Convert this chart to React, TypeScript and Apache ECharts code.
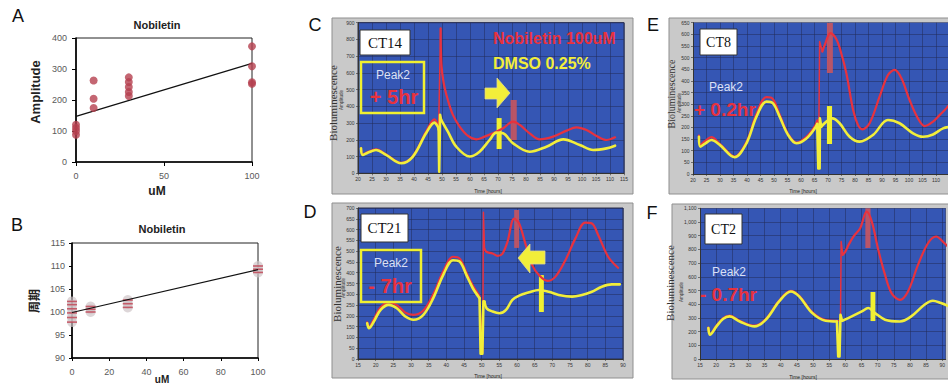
import React, { useEffect, useRef } from "react";
import * as echarts from "echarts";

const W = 948;
const H = 385;
const SANS = "'Liberation Sans', Arial, sans-serif";
const SERIF = "'Liberation Serif', 'Times New Roman', serif";
const BLUE = "#3556B4";
const RED = "#E8323E";
const YEL = "#F2EE3A";
const DOT = "#B5404F";

// ---------- Panel A: amplitude vs concentration ----------
const A_AMP_0 = [88, 100, 110, 120];
const A_AMP_10 = [174, 204, 263];
const A_AMP_30 = [213, 226, 242, 258, 273];
const A_AMP_100 = [252, 257, 309, 373];
const A_TREND = [[0, 147], [100, 318]];

// ---------- Panel B: period vs concentration ----------
const B_PER_0 = [97.8, 98.8, 99.8, 100.7, 101.6, 102.3];
const B_PER_10 = [100.0, 100.6, 101.2];
const B_PER_30 = [101.0, 101.8, 102.6];
const B_PER_100 = [108.6, 109.3, 110.0];
const B_TREND = [[0, 99.9], [100, 109.2]];

// ---------- Panel C (CT14) ----------
const C_RED_PRE = [[21.07, 149], [21.67, 112], [23.46, 127], [26.44, 143], [30, 113], [35.4, 62], [39.6, 103], [44.3, 248], [47.3, 322], [48.5, 290], [48.8, 272]];
const C_RED_SPIKE = [[48.8, 272], [49.5, 866]];
const C_RED_POST = [[49.5, 866], [49.8, 650], [50.6, 540], [52.1, 438], [53.9, 349], [56.3, 279], [59.3, 223], [62.2, 203], [65.2, 219], [68.2, 239], [71.8, 269], [75.4, 309], [77.8, 289], [81.3, 239], [84.9, 203], [89.7, 219], [94.5, 255], [98, 275], [101.6, 259], [105.2, 223], [108.8, 199], [111.8, 215]];
const C_YEL_PRE = [[21.07, 149], [21.67, 110], [23.46, 123], [26.44, 139], [30, 110], [35.4, 60], [39.6, 100], [44.3, 239], [47.3, 303], [48.5, 279], [48.8, 262]];
const C_YEL_SPIKE = [[48.8, 262], [49.0, 10], [49.3, 350], [49.7, 319]];
const C_YEL_POST = [[49.7, 319], [52.1, 249], [55.1, 159], [59.9, 100], [63.4, 129], [67, 199], [69.4, 243], [71.8, 239], [75.4, 179], [81.3, 129], [87.3, 159], [93.3, 203], [99.2, 169], [104, 139], [108.8, 149], [111.8, 165]];
const C_MARKS = [{ t0: 74.5, t1: 76.7, v0: 199, v1: 438, color: "rgba(200,85,95,0.9)" }, { t0: 69.5, t1: 71.3, v0: 145, v1: 330, color: "#F0F030" }];

// ---------- Panel D (CT21) ----------
const D_RED_PRE = [[17.6, 170], [18.1, 150], [19.5, 185], [21.4, 240], [23.7, 262], [26.0, 250], [28.4, 215], [30.7, 205], [33.5, 225], [36.3, 300], [39.1, 405], [41.9, 474], [43.8, 465], [45.7, 400], [47.5, 340], [49.4, 292]];
const D_RED_SPIKE = [[49.4, 292], [50.3, 30], [50.5, 680], [50.8, 510]];
const D_RED_POST = [[50.8, 510], [51.3, 497], [53.1, 489], [54.5, 478], [55.9, 489], [57.3, 543], [59.2, 651], [60.6, 628], [62.5, 528], [64.3, 435], [66.2, 389], [68.6, 362], [70.9, 382], [73.7, 458], [76.5, 558], [79.3, 632], [81.2, 628], [83.0, 574], [85.8, 474], [88.6, 423]];
const D_YEL_PRE = [[17.6, 166], [18.1, 143], [19.5, 174], [21.4, 228], [23.7, 251], [26.0, 235], [28.4, 197], [30.7, 182], [33.5, 205], [36.3, 282], [39.1, 389], [41.9, 458], [43.8, 451], [45.7, 389], [47.5, 328], [49.4, 282]];
const D_YEL_SPIKE = [[49.4, 282], [49.7, 25], [50.2, 25], [50.5, 268], [50.8, 266]];
const D_YEL_POST = [[50.8, 266], [51.4, 235], [53.1, 220], [55.0, 212], [56.9, 228], [58.7, 274], [60.6, 294], [63.4, 309], [66.2, 320], [69.0, 312], [71.8, 297], [75.6, 289], [78.4, 297], [81.2, 312], [84.0, 335], [86.8, 346], [89.1, 346]];
const D_MARKS = [{ t0: 59.2, t1: 60.6, v0: 515, v1: 691, color: "rgba(200,85,95,0.9)" }, { t0: 66.2, t1: 67.6, v0: 218, v1: 389, color: "#F0F030" }];

// ---------- Panel E (CT8) ----------
const E_RED_PRE = [[22.2, 165], [22.7, 125], [24.3, 140], [26.8, 158], [29.9, 130], [35.4, 75], [39.8, 137], [43.5, 258], [47.2, 330], [49.6, 322], [52.1, 255], [55.2, 172], [58.3, 135], [62.0, 160], [65.1, 205], [66.0, 230]];
const E_RED_SPIKE = [[66.0, 230], [66.6, 180], [66.9, 569], [67.9, 526]];
const E_RED_POST = [[67.9, 526], [68.8, 554], [70.9, 605], [73.1, 579], [74.9, 519], [76.8, 433], [79.3, 275], [81.1, 211], [82.7, 192], [85.4, 218], [89.1, 332], [92.2, 425], [94.7, 447], [97.2, 411], [100.2, 318], [103.3, 239], [105.8, 206], [108.9, 225], [111.4, 254], [113.8, 282], [115.7, 311]];
const E_YEL_PRE = [[22.2, 160], [22.7, 117], [24.3, 129], [26.8, 146], [29.9, 125], [35.4, 72], [39.8, 132], [43.5, 246], [47.2, 311], [49.6, 304], [52.1, 246], [55.2, 168], [58.3, 132], [62.0, 153], [65.1, 196], [66.0, 215]];
const E_YEL_SPIKE = [[66.0, 215], [66.4, 24], [66.9, 24], [67.0, 239], [67.5, 203]];
const E_YEL_POST = [[67.5, 203], [69.4, 225], [71.6, 239], [74.3, 218], [78.0, 160], [81.7, 139], [86.7, 168], [92.2, 232], [96.5, 218], [101.5, 175], [105.2, 160], [108.9, 170], [112.6, 196], [115.7, 203]];
const E_MARKS = [{ t0: 69.6, t1: 71.8, v0: 434, v1: 649, color: "rgba(200,85,95,0.9)" }, { t0: 69.6, t1: 71.5, v0: 129, v1: 292, color: "#F0F030" }];

// ---------- Panel F (CT2) ----------
const F_RED_PRE = [[17.6, 230], [18.1, 182], [20.1, 243], [22.2, 299], [24.2, 316], [27.3, 279], [31.9, 243], [35.4, 292], [39.5, 425], [43.1, 498], [45.7, 462], [49.8, 340], [53.9, 284], [57.4, 279]];
const F_RED_SPIKE = [[57.4, 279], [58.5, 279], [58.7, 857], [59.2, 760]];
const F_RED_POST = [[59.2, 760], [60.0, 784], [61.0, 833], [62.5, 894], [64.6, 954], [66.6, 1076], [68.2, 1003], [70.2, 797], [72.3, 614], [74.3, 481], [76.9, 432], [79.4, 493], [82.5, 687], [85.6, 845], [88.1, 894], [90.7, 845], [92.2, 809]];
const F_YEL_PRE = [[17.6, 226], [18.1, 177], [20.1, 238], [22.2, 294], [24.2, 311], [27.3, 274], [31.9, 238], [35.4, 287], [39.5, 420], [43.1, 493], [45.7, 457], [49.8, 335], [53.9, 279], [57.4, 274]];
const F_YEL_SPIKE = [[57.4, 274], [57.8, 19], [58.2, 19], [58.5, 323], [59.0, 279]];
const F_YEL_POST = [[59.0, 279], [62.0, 311], [65.1, 347], [67.1, 372], [69.2, 335], [72.3, 287], [76.9, 274], [80.4, 311], [84.5, 396], [87.1, 425], [89.6, 408], [92.2, 384]];
const F_MARKS = [{ t0: 66.2, t1: 67.8, v0: 810, v1: 1100, color: "rgba(200,85,95,0.9)" }, { t0: 67.8, t1: 69.3, v0: 277, v1: 489, color: "#F0F030" }];

type Lumi = {
  grid: { left: number; top: number; width: number; height: number };
  xmin: number; xmax: number; ymax: number; yint: number; border: number; cut: boolean;
  red: number[][][]; yel: number[][][]; marks: { t0: number; t1: number; v0: number; v1: number; color: string }[];
};

const LUMI: Lumi[] = [
  { grid: { left: 358, top: 22.7, width: 266, height: 150.6 }, xmin: 20, xmax: 115, ymax: 900, yint: 100, border: 1, cut: false, red: [C_RED_PRE, C_RED_SPIKE, C_RED_POST], yel: [C_YEL_PRE, C_YEL_SPIKE, C_YEL_POST], marks: C_MARKS },
  { grid: { left: 358, top: 208, width: 265, height: 151 }, xmin: 15, xmax: 90, ymax: 700, yint: 50, border: 1, cut: false, red: [D_RED_PRE, D_RED_SPIKE, D_RED_POST], yel: [D_YEL_PRE, D_YEL_SPIKE, D_YEL_POST], marks: D_MARKS },
  { grid: { left: 693, top: 22.7, width: 255, height: 151.3 }, xmin: 20, xmax: 114.44, ymax: 650, yint: 50, border: 0, cut: true, red: [E_RED_PRE, E_RED_SPIKE, E_RED_POST], yel: [E_YEL_PRE, E_YEL_SPIKE, E_YEL_POST], marks: E_MARKS },
  { grid: { left: 700, top: 208.3, width: 248, height: 150.7 }, xmin: 15, xmax: 91.07, ymax: 1100, yint: 100, border: 0, cut: true, red: [F_RED_PRE, F_RED_SPIKE, F_RED_POST], yel: [F_YEL_PRE, F_YEL_SPIKE, F_YEL_POST], marks: F_MARKS },
];

function txt(x: number, y: number, text: string, o: any = {}) {
  return {
    type: "text", x, y, z: 100, rotation: o.rotation || 0,
    style: {
      text, fill: o.fill || "#111", fontSize: o.size || 10, fontFamily: o.family || SANS,
      fontWeight: o.weight || "normal", textAlign: o.align || "center", textVerticalAlign: "middle",
      align: o.align || "center", verticalAlign: "middle",
    },
  };
}

function buildOption() {
  const grids: any[] = [
    { left: 76, top: 38, width: 176, height: 124, show: true, backgroundColor: "#fff", borderColor: "#222", borderWidth: 1 },
    { left: 72, top: 243, width: 186, height: 115, show: true, backgroundColor: "#fff", borderColor: "#222", borderWidth: 1 },
  ];
  const simpleAxisLabel = { fontSize: 9, color: "#595959", fontFamily: SANS };
  const xAxes: any[] = [
    { gridIndex: 0, type: "value", min: 0, max: 100, interval: 50, axisLine: { show: true, onZero: false, lineStyle: { color: "#000", width: 1.6 } }, axisTick: { show: true, length: 4, lineStyle: { color: "#000" } }, axisLabel: { ...simpleAxisLabel, margin: 9 }, splitLine: { show: false } },
    { gridIndex: 1, type: "value", min: 0, max: 100, interval: 20, axisLine: { show: true, onZero: false, lineStyle: { color: "#000", width: 1.6 } }, axisTick: { show: true, length: 3, lineStyle: { color: "#000" } }, axisLabel: { ...simpleAxisLabel, margin: 9 }, splitLine: { show: false } },
  ];
  const yAxes: any[] = [
    { gridIndex: 0, type: "value", min: 0, max: 400, interval: 100, axisLine: { show: true, onZero: false, lineStyle: { color: "#000", width: 1.6 } }, axisTick: { show: true, length: 4, lineStyle: { color: "#000" } }, axisLabel: { ...simpleAxisLabel, margin: 9 }, splitLine: { show: false } },
    { gridIndex: 1, type: "value", min: 90, max: 115, interval: 5, axisLine: { show: true, onZero: false, lineStyle: { color: "#000", width: 1.6 } }, axisTick: { show: true, length: 3, lineStyle: { color: "#000" } }, axisLabel: { ...simpleAxisLabel, margin: 7 }, splitLine: { show: false } },
  ];

  const aPts = [
    ...A_AMP_0.map((v) => [0, v]), ...A_AMP_10.map((v) => [10, v]),
    ...A_AMP_30.map((v) => [30, v]), ...A_AMP_100.map((v) => [100, v]),
  ];
  const bPts = [
    ...B_PER_0.map((v) => [0, v]), ...B_PER_10.map((v) => [10, v]),
    ...B_PER_30.map((v) => [30, v]), ...B_PER_100.map((v) => [100, v]),
  ];

  const series: any[] = [
    { type: "line", xAxisIndex: 0, yAxisIndex: 0, data: A_TREND, symbol: "none", lineStyle: { color: "#111", width: 1.2 }, z: 3, silent: true },
    { type: "scatter", xAxisIndex: 0, yAxisIndex: 0, data: aPts, symbol: "circle", symbolSize: 8, itemStyle: { color: DOT }, z: 4, silent: true },
    { type: "scatter", xAxisIndex: 1, yAxisIndex: 1, data: bPts, symbol: "circle", symbolSize: 10, itemStyle: { color: "rgba(205,195,198,0.85)" }, z: 3, silent: true },
    { type: "scatter", xAxisIndex: 1, yAxisIndex: 1, data: bPts, symbol: "rect", symbolSize: [10, 1.6], itemStyle: { color: "#C04050" }, z: 4, silent: true },
    { type: "line", xAxisIndex: 1, yAxisIndex: 1, data: B_TREND, symbol: "none", lineStyle: { color: "#111", width: 1.2 }, z: 5, silent: true },
  ];

  LUMI.forEach((p, k) => {
    const gi = k + 2;
    grids.push({ ...p.grid, show: true, backgroundColor: BLUE, borderColor: "#2a2f4a", borderWidth: p.border });
    const axisCommon = {
      gridIndex: gi, type: "value",
      axisLine: { show: true, onZero: false, lineStyle: { color: "#333", width: 1 } },
      axisTick: { show: true, length: 2, lineStyle: { color: "#333", width: 0.6 } },
      axisLabel: { fontSize: 5, color: "#333", margin: 3.5, fontFamily: SANS },
      splitLine: { show: true, lineStyle: { color: "rgba(35,45,90,0.75)", width: 0.7 } },
    };
    xAxes.push({ ...axisCommon, min: p.xmin, max: p.xmax, interval: 5, axisLabel: { ...axisCommon.axisLabel, showMaxLabel: !p.cut } });
    yAxes.push({ ...axisCommon, min: 0, max: p.ymax, interval: p.yint });
    const mk = (data: number[][], color: string, width: number, smooth: number | boolean, z: number) => ({
      type: "line", xAxisIndex: gi, yAxisIndex: gi, data, symbol: "none", showSymbol: false, smooth,
      lineStyle: { color, width, cap: "round", join: "round" }, z, silent: true,
    });
    series.push(mk(p.red[0], RED, 2.2, 0.35, 3));
    series.push(mk(p.red[1], RED, 1.5, false, 3));
    series.push(mk(p.red[2], RED, 2.2, 0.35, 3));
    series.push(mk(p.yel[0], YEL, 2.6, 0.35, 4));
    series.push(mk(p.yel[1], YEL, 2.6, false, 4));
    series.push(mk(p.yel[2], YEL, 2.6, 0.35, 4));
    series.push({
      type: "line", xAxisIndex: gi, yAxisIndex: gi, data: [], z: 10, silent: true,
      markArea: {
        silent: true, label: { show: false },
        data: p.marks.map((m) => [{ coord: [m.t0, m.v0], itemStyle: { color: m.color } }, { coord: [m.t1, m.v1] }]),
      },
    });
  });

  const frame = (x: number, y: number, w: number, h: number) => ({
    type: "rect", z: -10, shape: { x, y, width: w, height: h },
    style: { fill: "#C9C9C9", stroke: "#8f8f8f", lineWidth: 1 },
  });
  const box = (x: number, y: number, w: number, h: number) => ({
    type: "rect", z: 100, shape: { x, y, width: w, height: h },
    style: { fill: "#fff", stroke: "#333", lineWidth: 1 },
  });
  const ybox = (x: number, y: number, w: number, h: number) => ({
    type: "rect", z: 100, shape: { x, y, width: w, height: h },
    style: { fill: "none", stroke: "#F0F030", lineWidth: 2.5 },
  });
  const rot = Math.PI / 2;
  const peak = "#DCE0F5";

  const graphic: any[] = [
    frame(332, 18, 301, 176), frame(332, 203, 301, 175), frame(669, 18, 300, 176), frame(672, 204, 300, 175),
    // panel letters
    txt(18, 16, "A", { size: 18 }), txt(17, 225, "B", { size: 18 }),
    txt(315, 25, "C", { size: 18 }), txt(310, 212, "D", { size: 18 }),
    txt(653, 25, "E", { size: 18 }), txt(652, 213, "F", { size: 18 }),
    // A / B titles and axis names
    txt(157, 25, "Nobiletin", { size: 11, weight: "bold", fill: "#222" }),
    txt(157, 191, "uM", { size: 12, weight: "bold", fill: "#222" }),
    txt(35, 92, "Amplitude", { size: 13, weight: "bold", fill: "#222", rotation: rot }),
    txt(162, 229, "Nobiletin", { size: 11, weight: "bold", fill: "#222" }),
    txt(162, 379, "uM", { size: 10, weight: "bold", fill: "#222" }),
    txt(33, 301, "周期", { size: 12, weight: "bold", fill: "#222", rotation: rot, family: "'Noto Sans CJK SC', sans-serif" }),
    // C
    txt(333, 103, "Bioluminescence", { size: 11, family: SERIF, fill: "#333", rotation: rot }),
    txt(341, 100, "Amplitude", { size: 4.5, fill: "#333", rotation: rot }),
    txt(488, 191, "Time [hours]", { size: 5, fill: "#222" }),
    box(360, 30, 50, 25), txt(385, 43, "CT14", { size: 15, family: SERIF }),
    ybox(361, 62, 63, 51),
    txt(393, 75, "Peak2", { size: 12, fill: peak }),
    txt(394, 97, "+ 5hr", { size: 20, weight: "bold", fill: RED }),
    txt(493, 38, "Nobiletin 100uM", { size: 16, weight: "bold", fill: RED, align: "left" }),
    txt(493, 63, "DMSO 0.25%", { size: 16, weight: "bold", fill: YEL, align: "left" }),
    { type: "polygon", z: 100, shape: { points: [[485, 88], [497, 88], [497, 78], [510, 93], [497, 108], [497, 99], [485, 99]] }, style: { fill: YEL, stroke: "#e0d890", lineWidth: 0.8 } },
    // D
    txt(337, 284, "Bioluminescence", { size: 11, family: SERIF, fill: "#333", rotation: rot }),
    txt(343, 288, "Amplitude", { size: 4.5, fill: "#333", rotation: rot }),
    txt(488, 376, "Time [hours]", { size: 5, fill: "#222" }),
    box(361, 214, 47, 28), txt(384.5, 228, "CT21", { size: 15, family: SERIF }),
    ybox(361, 250, 60, 52),
    txt(391, 263, "Peak2", { size: 12, fill: peak }),
    txt(390, 286, "- 7hr", { size: 20, weight: "bold", fill: RED }),
    { type: "polygon", z: 100, shape: { points: [[518, 258], [530, 244], [530, 251], [545, 251], [545, 264], [530, 264], [530, 273]] }, style: { fill: YEL, stroke: "#e0d890", lineWidth: 0.8 } },
    // E
    txt(671, 94, "Bioluminescence", { size: 10, family: SERIF, fill: "#333", rotation: rot }),
    txt(679, 103, "Amplitude", { size: 4.5, fill: "#333", rotation: rot }),
    txt(803, 191, "Time [hours]", { size: 5, fill: "#222" }),
    box(700, 29, 37, 26), txt(718.5, 42, "CT8", { size: 14, family: SERIF }),
    txt(726, 87, "Peak2", { size: 12, fill: peak }),
    txt(694, 109, "+ 0.2hr", { size: 19, weight: "bold", fill: RED, align: "left" }),
    // F
    txt(670, 283, "Bioluminescence", { size: 11, family: SERIF, fill: "#333", rotation: rot }),
    txt(681, 292, "Amplitude", { size: 4.5, fill: "#333", rotation: rot }),
    txt(803, 377, "Time [hours]", { size: 5, fill: "#222" }),
    box(705, 214, 37, 30), txt(723.5, 229, "CT2", { size: 14, family: SERIF }),
    txt(729, 272, "Peak2", { size: 12, fill: peak }),
    txt(700, 294, "- 0.7hr", { size: 19, weight: "bold", fill: RED, align: "left" }),
  ];

  return {
    animation: false,
    backgroundColor: "#fff",
    grid: grids,
    xAxis: xAxes,
    yAxis: yAxes,
    series,
    graphic,
  };
}

export default function App() {
  const ref = useRef<HTMLDivElement>(null);
  useEffect(() => {
    document.body.style.margin = "0";
    const chart = echarts.init(ref.current!, null, { renderer: "svg", width: W, height: H });
    chart.setOption(buildOption() as any);
    return () => chart.dispose();
  }, []);
  return <div ref={ref} style={{ width: W, height: H, position: "absolute", left: 0, top: 0, background: "#fff", overflow: "hidden" }} />;
}
